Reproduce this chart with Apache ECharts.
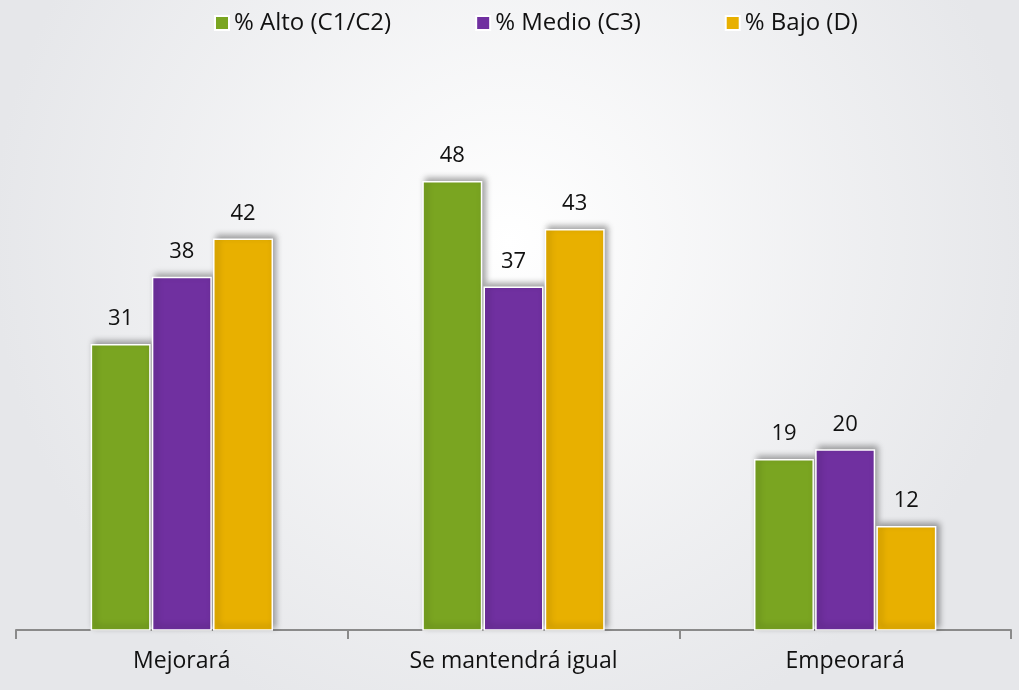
<!DOCTYPE html>
<html>
<head>
<meta charset="utf-8">
<script src="https://cdn.jsdelivr.net/npm/echarts@6/dist/echarts.min.js"></script>
<style>
html, body { margin: 0; padding: 0; }
#main { width: 1019px; height: 690px; }
</style>
</head>
<body>
<div id="main"></div>
<script>
var categories = ['Mejorará', 'Se mantendrá igual', 'Empeorará'];
var seriesNames = ['% Alto (C1/C2)', '% Medio (C3)', '% Bajo (D)'];
var alto = [31, 48, 19];
var medio = [38, 37, 20];
var bajo = [42, 43, 12];
var colors = ['#7aa521', '#7030a0', '#e8b000'];

var myChart = echarts.init(document.getElementById('main'));

function makeSeries(name, data, color) {
    return {
        name: name,
        type: 'bar',
        data: data,
        barWidth: 60,
        barGap: '2%',
        itemStyle: {
            color: color,
            borderColor: '#ffffff',
            borderWidth: 1.5,
            shadowColor: 'rgba(0, 0, 0, 0.35)',
            shadowBlur: 6,
            shadowOffsetX: 3,
            shadowOffsetY: -3
        },
        label: {
            show: true,
            position: 'top',
            distance: 14,
            color: '#111',
            fontSize: 22,
            fontFamily: 'Open Sans'
        }
    };
}

option = {
    backgroundColor: {
        type: 'radial',
        x: 0.5,
        y: 0.35,
        r: 0.75,
        colorStops: [
            { offset: 0, color: '#ffffff' },
            { offset: 1, color: '#e6e7ea' }
        ]
    },
    color: colors,
    legend: {
        top: 6,
        left: 209,
        itemWidth: 14,
        itemHeight: 14,
        itemGap: 84,
        icon: 'rect',
        textStyle: {
            color: '#111',
            fontSize: 24,
            fontFamily: 'Open Sans'
        },
        data: seriesNames
    },
    grid: {
        left: 16,
        right: 8,
        top: 66,
        bottom: 60
    },
    xAxis: {
        type: 'category',
        data: categories,
        axisLine: { lineStyle: { color: '#8a8a8a', width: 2 } },
        axisTick: { show: true, length: 9, lineStyle: { color: '#8a8a8a', width: 2 } },
        axisLabel: {
            color: '#111',
            fontSize: 23,
            fontFamily: 'Open Sans',
            margin: 20
        }
    },
    yAxis: {
        type: 'value',
        min: 1.15,
        max: 60,
        show: false,
        splitLine: { show: false }
    },
    series: [
        makeSeries(seriesNames[0], alto, colors[0]),
        makeSeries(seriesNames[1], medio, colors[1]),
        makeSeries(seriesNames[2], bajo, colors[2])
    ]
};

myChart.setOption(option);
</script>
</body>
</html>
